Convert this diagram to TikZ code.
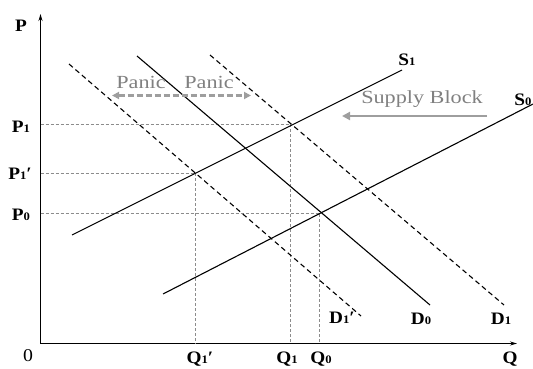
\documentclass[tikz,border=0pt]{standalone}
\usepackage{fontspec}
\setmainfont{Liberation Serif}[FakeStretch=1.2]
\newfontfamily\lblfont{Liberation Serif}[FakeStretch=1.1]
\usetikzlibrary{arrows.meta}
\newcommand{\sub}[1]{{\fontsize{11.5}{11.5}\selectfont #1}}
\begin{document}
\begin{tikzpicture}[x=1pt,y=-1pt,
  curve/.style={line width=1.1pt,black},
  dcurve/.style={line width=1.1pt,black,dash pattern=on 5pt off 3.5pt},
  guide/.style={line width=0.5pt,black!45,dash pattern=on 3pt off 2pt},
  axis/.style={line width=1pt,-{Stealth[length=7pt,width=4pt]}},
  lbl/.style={font=\lblfont\bfseries\fontsize{17.5}{17.5}\selectfont,inner sep=0pt},
  rlbl/.style={font=\lblfont\fontsize{18}{18}\selectfont,inner sep=0pt},
  gtxt/.style={font=\fontsize{18.5}{18.5}\selectfont,text=black!50,inner sep=0pt},
  garrow/.style={line width=2pt,black!38}]
\useasboundingbox (0,0) rectangle (533,369);
% axes
\coordinate (O) at (40.5,343.5);
\coordinate (Ytop) at (40.5,14);
\coordinate (Xend) at (517,343.5);
\draw[axis] (O) -- (Ytop);
\draw[axis] (O) -- (Xend);
% equilibrium points
\coordinate (E0) at (319.5,213);
\coordinate (E1) at (290.5,124);
\coordinate (E1p) at (195.5,173);
\coordinate (yP1) at (40.5,124);
\coordinate (yP1p) at (40.5,173);
\coordinate (yP0) at (40.5,213);
\coordinate (xQ1) at (290.5,343.5);
\coordinate (xQ1p) at (195.5,343.5);
\coordinate (xQ0) at (319.5,343.5);
\draw[guide] (yP1) -- (E1) -- (xQ1);
\draw[guide] (yP1p) -- (E1p) -- (xQ1p);
\draw[guide] (yP0) -- (E0) -- (xQ0);
% curves
\coordinate (S1a) at (72,235);
\coordinate (S1b) at (402,70);
\coordinate (S0a) at (163,294);
\coordinate (S0b) at (533,104);
\coordinate (D0a) at (137,56);
\coordinate (D0b) at (430,305);
\coordinate (D1a) at (210,55);
\coordinate (D1b) at (504,305);
\coordinate (D1pa) at (69,64);
\coordinate (D1pb) at (361,316);
\draw[curve] (S1a) -- (S1b);
\draw[curve] (S0a) -- (S0b);
\draw[curve] (D0a) -- (D0b);
\draw[dcurve] (D1a) -- (D1b);
\draw[dcurve] (D1pa) -- (D1pb);
% labels
\node[lbl] (lP) at (21,26) {P};
\node[lbl] (lP1) at (21,127) {P\sub{1}};
\node[lbl] (lP1p) at (20,174) {P\sub{1}′};
\node[lbl] (lP0) at (21,215) {P\sub{0}};
\node[rlbl] (l0) at (28,356) {0};
\node[lbl] (lQ1p) at (200,359) {Q\sub{1}′};
\node[lbl] (lQ1) at (287,359) {Q\sub{1}};
\node[lbl] (lQ0) at (321,359) {Q\sub{0}};
\node[lbl] (lQ) at (510,359) {Q};
\node[lbl] (lD1p) at (342,318) {D\sub{1}′};
\node[lbl] (lD0) at (421,319) {D\sub{0}};
\node[lbl] (lD1) at (501,319) {D\sub{1}};
\node[lbl] (lS1) at (407,60) {S\sub{1}};
\node[lbl] (lS0) at (523,100) {S\sub{0}};
% panic
\node[gtxt] (pan1) at (141,82) {Panic};
\node[gtxt] (pan2) at (209,82) {Panic};
\coordinate (panL) at (112,95.5);
\coordinate (panR) at (251,95.5);
\draw[garrow,dash pattern=on 6pt off 3pt,{Triangle[length=7pt,width=7pt]}-{Triangle[length=7pt,width=7pt]}] (panL) -- (panR);
% supply block
\node[gtxt] (sb) at (422,99) {Supply Block};
\coordinate (sbR) at (487,116);
\coordinate (sbL) at (342,116);
\draw[garrow,-{Triangle[length=8pt,width=8pt]}] (sbR) -- (sbL);
\end{tikzpicture}
\end{document}
